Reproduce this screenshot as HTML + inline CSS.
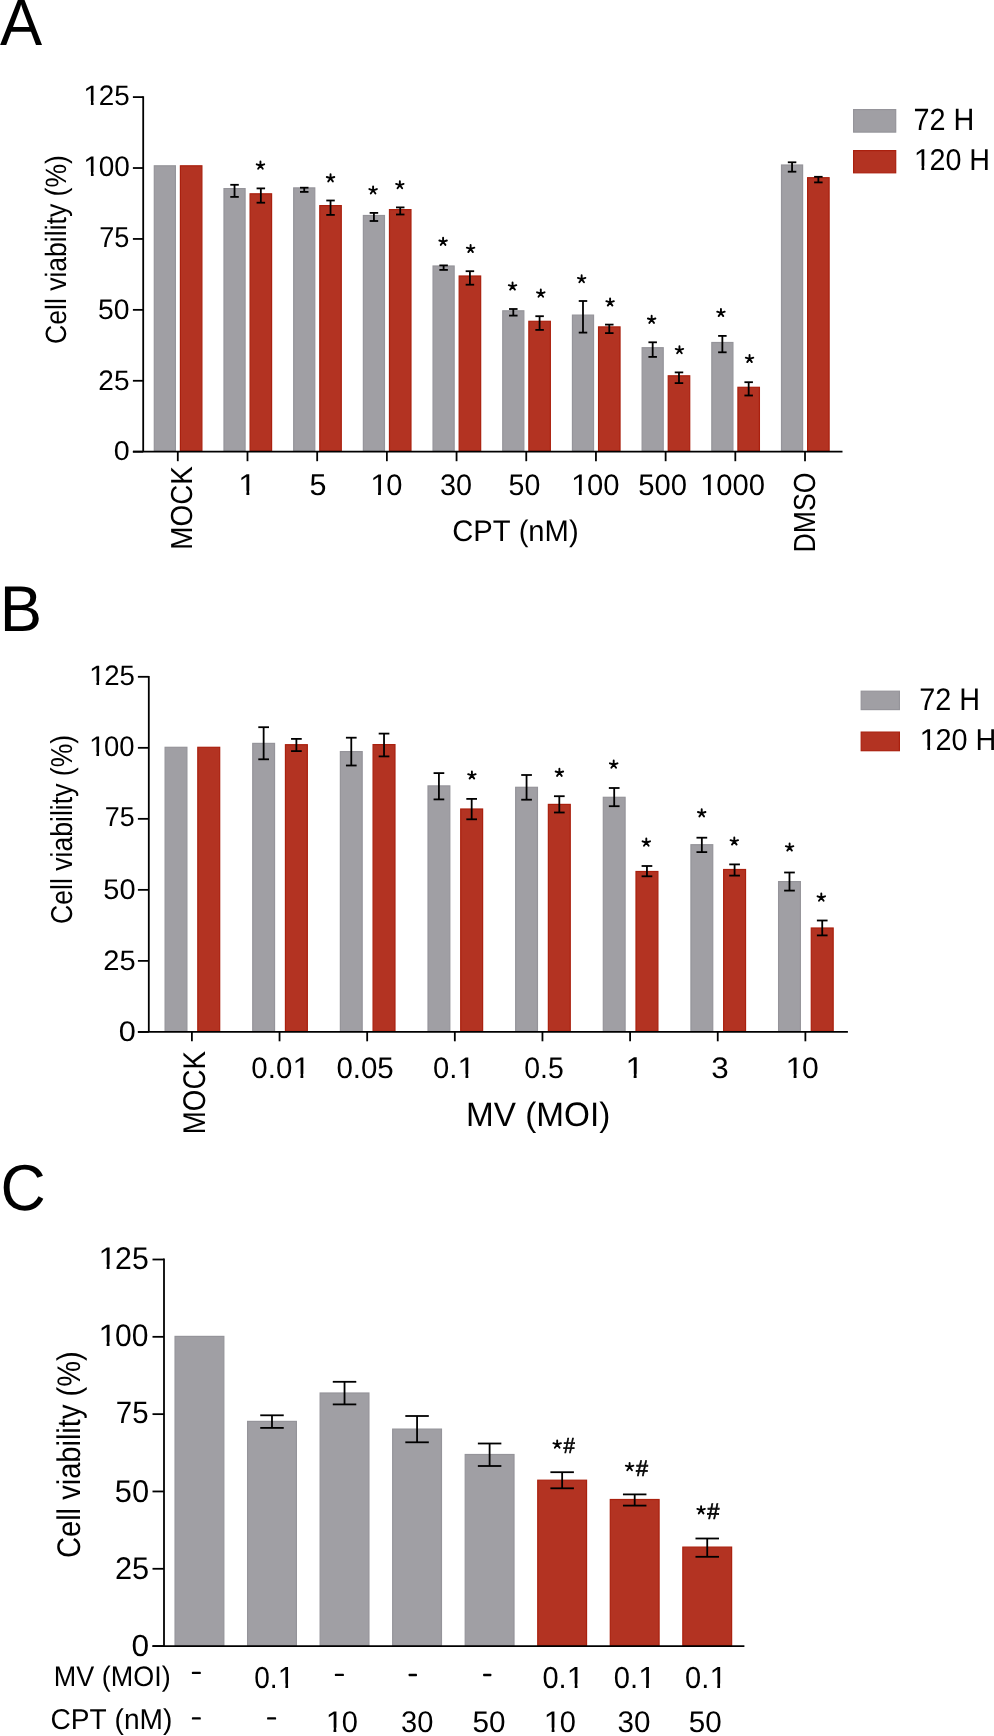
<!DOCTYPE html>
<html><head><meta charset="utf-8"><style>
html,body{margin:0;padding:0;background:#fff;}
svg{display:block;will-change:transform;}
text{font-family:"Liberation Sans",sans-serif;font-size:100px;fill:#000;font-kerning:none;text-rendering:geometricPrecision;}
.t{opacity:0.999;}
</style></head><body>
<svg width="994" height="1736" viewBox="0 0 994 1736">
<rect width="994" height="1736" fill="#fff"/>
<g class="t" transform="translate(0.07,44.5) scale(0.63192,0.65408)"><text>A</text></g>
<line x1="132.9" y1="97.1" x2="143.2" y2="97.1" stroke="#000" stroke-width="1.8"/>
<g class="t" transform="translate(83.2,104.53) scale(0.27875,0.28107)"><g transform="translate(0.48,0) scale(1.0822,1)"><text>1</text><rect x="1.95" y="-13" width="23.14" height="16.5" fill="#fff"/><rect x="34.03" y="-13" width="20.17" height="16.5" fill="#fff"/></g><text x="55.62">25</text></g>
<line x1="132.9" y1="168.02" x2="143.2" y2="168.02" stroke="#000" stroke-width="1.8"/>
<g class="t" transform="translate(83.21,175.52) scale(0.27888,0.28248)"><g transform="translate(0.48,0) scale(1.0822,1)"><text>1</text><rect x="1.95" y="-13" width="23.14" height="16.5" fill="#fff"/><rect x="34.03" y="-13" width="20.17" height="16.5" fill="#fff"/></g><text x="55.62">00</text></g>
<line x1="132.9" y1="238.94" x2="143.2" y2="238.94" stroke="#000" stroke-width="1.8"/>
<g class="t" transform="translate(99.21,246.72) scale(0.27138,0.28807)"><text>75</text></g>
<line x1="132.9" y1="309.86" x2="143.2" y2="309.86" stroke="#000" stroke-width="1.8"/>
<g class="t" transform="translate(98.02,318.52) scale(0.28353,0.28248)"><text>50</text></g>
<line x1="132.9" y1="380.78" x2="143.2" y2="380.78" stroke="#000" stroke-width="1.8"/>
<g class="t" transform="translate(98.29,389.53) scale(0.28058,0.28107)"><text>25</text></g>
<line x1="132.9" y1="451.7" x2="143.2" y2="451.7" stroke="#000" stroke-width="1.8"/>
<g class="t" transform="translate(113.64,459.74) scale(0.28631,0.27118)"><text>0</text></g>
<rect x="154.3" y="165.8" width="21.1" height="285.3" fill="#a09fa4" stroke="#95949a" stroke-width="1.2"/>
<rect x="180.4" y="165.8" width="21.5" height="285.3" fill="#b33322" stroke="#aa200e" stroke-width="1.2"/>
<line x1="177.8" y1="451.7" x2="177.8" y2="461.2" stroke="#000" stroke-width="1.8"/>
<rect x="223.99" y="188.6" width="21.1" height="262.5" fill="#a09fa4" stroke="#95949a" stroke-width="1.2"/>
<rect x="250.09" y="193.8" width="21.5" height="257.3" fill="#b33322" stroke="#aa200e" stroke-width="1.2"/>
<line x1="234.54" y1="184.8" x2="234.54" y2="196.9" stroke="#000" stroke-width="1.8"/>
<line x1="230.29" y1="184.8" x2="238.79" y2="184.8" stroke="#000" stroke-width="1.8"/>
<line x1="230.29" y1="196.9" x2="238.79" y2="196.9" stroke="#000" stroke-width="1.8"/>
<line x1="260.84" y1="188.4" x2="260.84" y2="202.7" stroke="#000" stroke-width="1.8"/>
<line x1="256.59" y1="188.4" x2="265.09" y2="188.4" stroke="#000" stroke-width="1.8"/>
<line x1="256.59" y1="202.7" x2="265.09" y2="202.7" stroke="#000" stroke-width="1.8"/>
<path d="M260.45 165.5L260.45 161.55M260.45 165.5L256.69 164.28M260.45 165.5L258.13 168.7M260.45 165.5L262.77 168.7M260.45 165.5L264.21 164.28" stroke="#000" stroke-width="1.9" stroke-linecap="round" fill="none"/>
<line x1="247.49" y1="451.7" x2="247.49" y2="461.2" stroke="#000" stroke-width="1.8"/>
<rect x="293.68" y="187.9" width="21.1" height="263.2" fill="#a09fa4" stroke="#95949a" stroke-width="1.2"/>
<rect x="319.78" y="205.6" width="21.5" height="245.5" fill="#b33322" stroke="#aa200e" stroke-width="1.2"/>
<line x1="304.23" y1="187.7" x2="304.23" y2="191.9" stroke="#000" stroke-width="1.8"/>
<line x1="299.98" y1="187.7" x2="308.48" y2="187.7" stroke="#000" stroke-width="1.8"/>
<line x1="299.98" y1="191.9" x2="308.48" y2="191.9" stroke="#000" stroke-width="1.8"/>
<line x1="330.53" y1="200.5" x2="330.53" y2="214.9" stroke="#000" stroke-width="1.8"/>
<line x1="326.28" y1="200.5" x2="334.78" y2="200.5" stroke="#000" stroke-width="1.8"/>
<line x1="326.28" y1="214.9" x2="334.78" y2="214.9" stroke="#000" stroke-width="1.8"/>
<path d="M330.55 178.2L330.55 174.25M330.55 178.2L326.79 176.98M330.55 178.2L328.23 181.4M330.55 178.2L332.87 181.4M330.55 178.2L334.31 176.98" stroke="#000" stroke-width="1.9" stroke-linecap="round" fill="none"/>
<line x1="317.18" y1="451.7" x2="317.18" y2="461.2" stroke="#000" stroke-width="1.8"/>
<rect x="363.37" y="215.5" width="21.1" height="235.6" fill="#a09fa4" stroke="#95949a" stroke-width="1.2"/>
<rect x="389.47" y="209.6" width="21.5" height="241.5" fill="#b33322" stroke="#aa200e" stroke-width="1.2"/>
<line x1="373.92" y1="212.9" x2="373.92" y2="221" stroke="#000" stroke-width="1.8"/>
<line x1="369.67" y1="212.9" x2="378.17" y2="212.9" stroke="#000" stroke-width="1.8"/>
<line x1="369.67" y1="221" x2="378.17" y2="221" stroke="#000" stroke-width="1.8"/>
<line x1="400.22" y1="207.4" x2="400.22" y2="214.5" stroke="#000" stroke-width="1.8"/>
<line x1="395.97" y1="207.4" x2="404.47" y2="207.4" stroke="#000" stroke-width="1.8"/>
<line x1="395.97" y1="214.5" x2="404.47" y2="214.5" stroke="#000" stroke-width="1.8"/>
<path d="M373.1 190.3L373.1 186.35M373.1 190.3L369.34 189.08M373.1 190.3L370.78 193.5M373.1 190.3L375.42 193.5M373.1 190.3L376.86 189.08" stroke="#000" stroke-width="1.9" stroke-linecap="round" fill="none"/>
<path d="M399.85 185.1L399.85 181.15M399.85 185.1L396.09 183.88M399.85 185.1L397.53 188.3M399.85 185.1L402.17 188.3M399.85 185.1L403.61 183.88" stroke="#000" stroke-width="1.9" stroke-linecap="round" fill="none"/>
<line x1="386.87" y1="451.7" x2="386.87" y2="461.2" stroke="#000" stroke-width="1.8"/>
<rect x="433.06" y="266" width="21.1" height="185.1" fill="#a09fa4" stroke="#95949a" stroke-width="1.2"/>
<rect x="459.16" y="276" width="21.5" height="175.1" fill="#b33322" stroke="#aa200e" stroke-width="1.2"/>
<line x1="443.61" y1="265.4" x2="443.61" y2="269.9" stroke="#000" stroke-width="1.8"/>
<line x1="439.36" y1="265.4" x2="447.86" y2="265.4" stroke="#000" stroke-width="1.8"/>
<line x1="439.36" y1="269.9" x2="447.86" y2="269.9" stroke="#000" stroke-width="1.8"/>
<line x1="469.91" y1="271.2" x2="469.91" y2="284.7" stroke="#000" stroke-width="1.8"/>
<line x1="465.66" y1="271.2" x2="474.16" y2="271.2" stroke="#000" stroke-width="1.8"/>
<line x1="465.66" y1="284.7" x2="474.16" y2="284.7" stroke="#000" stroke-width="1.8"/>
<path d="M443.1 241.7L443.1 237.75M443.1 241.7L439.34 240.48M443.1 241.7L440.78 244.9M443.1 241.7L445.42 244.9M443.1 241.7L446.86 240.48" stroke="#000" stroke-width="1.9" stroke-linecap="round" fill="none"/>
<path d="M470.6 248.9L470.6 244.95M470.6 248.9L466.84 247.68M470.6 248.9L468.28 252.1M470.6 248.9L472.92 252.1M470.6 248.9L474.36 247.68" stroke="#000" stroke-width="1.9" stroke-linecap="round" fill="none"/>
<line x1="456.56" y1="451.7" x2="456.56" y2="461.2" stroke="#000" stroke-width="1.8"/>
<rect x="502.75" y="310.8" width="21.1" height="140.3" fill="#a09fa4" stroke="#95949a" stroke-width="1.2"/>
<rect x="528.85" y="321.3" width="21.5" height="129.8" fill="#b33322" stroke="#aa200e" stroke-width="1.2"/>
<line x1="513.3" y1="309" x2="513.3" y2="315.6" stroke="#000" stroke-width="1.8"/>
<line x1="509.05" y1="309" x2="517.55" y2="309" stroke="#000" stroke-width="1.8"/>
<line x1="509.05" y1="315.6" x2="517.55" y2="315.6" stroke="#000" stroke-width="1.8"/>
<line x1="539.6" y1="316.2" x2="539.6" y2="329.9" stroke="#000" stroke-width="1.8"/>
<line x1="535.35" y1="316.2" x2="543.85" y2="316.2" stroke="#000" stroke-width="1.8"/>
<line x1="535.35" y1="329.9" x2="543.85" y2="329.9" stroke="#000" stroke-width="1.8"/>
<path d="M512.55 286.4L512.55 282.45M512.55 286.4L508.79 285.18M512.55 286.4L510.23 289.6M512.55 286.4L514.87 289.6M512.55 286.4L516.31 285.18" stroke="#000" stroke-width="1.9" stroke-linecap="round" fill="none"/>
<path d="M540.8 293.5L540.8 289.55M540.8 293.5L537.04 292.28M540.8 293.5L538.48 296.7M540.8 293.5L543.12 296.7M540.8 293.5L544.56 292.28" stroke="#000" stroke-width="1.9" stroke-linecap="round" fill="none"/>
<line x1="526.25" y1="451.7" x2="526.25" y2="461.2" stroke="#000" stroke-width="1.8"/>
<rect x="572.44" y="315.1" width="21.1" height="136" fill="#a09fa4" stroke="#95949a" stroke-width="1.2"/>
<rect x="598.54" y="326.9" width="21.5" height="124.2" fill="#b33322" stroke="#aa200e" stroke-width="1.2"/>
<line x1="582.99" y1="301" x2="582.99" y2="332.6" stroke="#000" stroke-width="1.8"/>
<line x1="578.74" y1="301" x2="587.24" y2="301" stroke="#000" stroke-width="1.8"/>
<line x1="578.74" y1="332.6" x2="587.24" y2="332.6" stroke="#000" stroke-width="1.8"/>
<line x1="609.29" y1="324.6" x2="609.29" y2="333.1" stroke="#000" stroke-width="1.8"/>
<line x1="605.04" y1="324.6" x2="613.54" y2="324.6" stroke="#000" stroke-width="1.8"/>
<line x1="605.04" y1="333.1" x2="613.54" y2="333.1" stroke="#000" stroke-width="1.8"/>
<path d="M581.65 279.1L581.65 275.15M581.65 279.1L577.89 277.88M581.65 279.1L579.33 282.3M581.65 279.1L583.97 282.3M581.65 279.1L585.41 277.88" stroke="#000" stroke-width="1.9" stroke-linecap="round" fill="none"/>
<path d="M610.1 302.4L610.1 298.45M610.1 302.4L606.34 301.18M610.1 302.4L607.78 305.6M610.1 302.4L612.42 305.6M610.1 302.4L613.86 301.18" stroke="#000" stroke-width="1.9" stroke-linecap="round" fill="none"/>
<line x1="595.94" y1="451.7" x2="595.94" y2="461.2" stroke="#000" stroke-width="1.8"/>
<rect x="642.13" y="347.7" width="21.1" height="103.4" fill="#a09fa4" stroke="#95949a" stroke-width="1.2"/>
<rect x="668.23" y="375.8" width="21.5" height="75.3" fill="#b33322" stroke="#aa200e" stroke-width="1.2"/>
<line x1="652.68" y1="342.3" x2="652.68" y2="356.9" stroke="#000" stroke-width="1.8"/>
<line x1="648.43" y1="342.3" x2="656.93" y2="342.3" stroke="#000" stroke-width="1.8"/>
<line x1="648.43" y1="356.9" x2="656.93" y2="356.9" stroke="#000" stroke-width="1.8"/>
<line x1="678.98" y1="372.4" x2="678.98" y2="383.1" stroke="#000" stroke-width="1.8"/>
<line x1="674.73" y1="372.4" x2="683.23" y2="372.4" stroke="#000" stroke-width="1.8"/>
<line x1="674.73" y1="383.1" x2="683.23" y2="383.1" stroke="#000" stroke-width="1.8"/>
<path d="M651.65 319.7L651.65 315.75M651.65 319.7L647.89 318.48M651.65 319.7L649.33 322.9M651.65 319.7L653.97 322.9M651.65 319.7L655.41 318.48" stroke="#000" stroke-width="1.9" stroke-linecap="round" fill="none"/>
<path d="M679.45 350.1L679.45 346.15M679.45 350.1L675.69 348.88M679.45 350.1L677.13 353.3M679.45 350.1L681.77 353.3M679.45 350.1L683.21 348.88" stroke="#000" stroke-width="1.9" stroke-linecap="round" fill="none"/>
<line x1="665.63" y1="451.7" x2="665.63" y2="461.2" stroke="#000" stroke-width="1.8"/>
<rect x="711.82" y="342.5" width="21.1" height="108.6" fill="#a09fa4" stroke="#95949a" stroke-width="1.2"/>
<rect x="737.92" y="387.3" width="21.5" height="63.8" fill="#b33322" stroke="#aa200e" stroke-width="1.2"/>
<line x1="722.37" y1="335.9" x2="722.37" y2="352.3" stroke="#000" stroke-width="1.8"/>
<line x1="718.12" y1="335.9" x2="726.62" y2="335.9" stroke="#000" stroke-width="1.8"/>
<line x1="718.12" y1="352.3" x2="726.62" y2="352.3" stroke="#000" stroke-width="1.8"/>
<line x1="748.67" y1="382.2" x2="748.67" y2="395.5" stroke="#000" stroke-width="1.8"/>
<line x1="744.42" y1="382.2" x2="752.92" y2="382.2" stroke="#000" stroke-width="1.8"/>
<line x1="744.42" y1="395.5" x2="752.92" y2="395.5" stroke="#000" stroke-width="1.8"/>
<path d="M720.95 312.9L720.95 308.95M720.95 312.9L717.19 311.68M720.95 312.9L718.63 316.1M720.95 312.9L723.27 316.1M720.95 312.9L724.71 311.68" stroke="#000" stroke-width="1.9" stroke-linecap="round" fill="none"/>
<path d="M749.55 358.9L749.55 354.95M749.55 358.9L745.79 357.68M749.55 358.9L747.23 362.1M749.55 358.9L751.87 362.1M749.55 358.9L753.31 357.68" stroke="#000" stroke-width="1.9" stroke-linecap="round" fill="none"/>
<line x1="735.32" y1="451.7" x2="735.32" y2="461.2" stroke="#000" stroke-width="1.8"/>
<rect x="781.51" y="165" width="21.1" height="286.1" fill="#a09fa4" stroke="#95949a" stroke-width="1.2"/>
<rect x="807.61" y="177.7" width="21.5" height="273.4" fill="#b33322" stroke="#aa200e" stroke-width="1.2"/>
<line x1="792.06" y1="162.3" x2="792.06" y2="171.7" stroke="#000" stroke-width="1.8"/>
<line x1="787.81" y1="162.3" x2="796.31" y2="162.3" stroke="#000" stroke-width="1.8"/>
<line x1="787.81" y1="171.7" x2="796.31" y2="171.7" stroke="#000" stroke-width="1.8"/>
<line x1="818.36" y1="176.8" x2="818.36" y2="182.4" stroke="#000" stroke-width="1.8"/>
<line x1="814.11" y1="176.8" x2="822.61" y2="176.8" stroke="#000" stroke-width="1.8"/>
<line x1="814.11" y1="182.4" x2="822.61" y2="182.4" stroke="#000" stroke-width="1.8"/>
<line x1="805.01" y1="451.7" x2="805.01" y2="461.2" stroke="#000" stroke-width="1.8"/>
<line x1="143.2" y1="96.2" x2="143.2" y2="451.7" stroke="#000" stroke-width="1.8"/>
<line x1="132.9" y1="451.7" x2="842.5" y2="451.7" stroke="#000" stroke-width="1.8"/>
<g class="t" transform="translate(238.12,494.6) scale(0.29984,0.30088)"><g transform="translate(0.48,0) scale(1.0822,1)"><text>1</text><rect x="1.95" y="-13" width="23.14" height="16.5" fill="#fff"/><rect x="34.03" y="-13" width="20.17" height="16.5" fill="#fff"/></g></g>
<g class="t" transform="translate(309.42,494.61) scale(0.30471,0.30097)"><text>5</text></g>
<g class="t" transform="translate(369.99,494.61) scale(0.29141,0.29661)"><g transform="translate(0.48,0) scale(1.0822,1)"><text>1</text><rect x="1.95" y="-13" width="23.14" height="16.5" fill="#fff"/><rect x="34.03" y="-13" width="20.17" height="16.5" fill="#fff"/></g><text x="55.62">0</text></g>
<g class="t" transform="translate(439.98,494.61) scale(0.28788,0.29661)"><text>30</text></g>
<g class="t" transform="translate(508.57,494.61) scale(0.28505,0.29661)"><text>50</text></g>
<g class="t" transform="translate(570.77,494.61) scale(0.29203,0.29661)"><g transform="translate(0.48,0) scale(1.0822,1)"><text>1</text><rect x="1.95" y="-13" width="23.14" height="16.5" fill="#fff"/><rect x="34.03" y="-13" width="20.17" height="16.5" fill="#fff"/></g><text x="55.62">00</text></g>
<g class="t" transform="translate(638.14,494.61) scale(0.29239,0.29661)"><text>500</text></g>
<g class="t" transform="translate(699.93,494.61) scale(0.29187,0.29661)"><g transform="translate(0.48,0) scale(1.0822,1)"><text>1</text><rect x="1.95" y="-13" width="23.14" height="16.5" fill="#fff"/><rect x="34.03" y="-13" width="20.17" height="16.5" fill="#fff"/></g><text x="55.62">000</text></g>
<g class="t" transform="translate(191.6,549.63) rotate(-90) scale(0.27793,0.30367)"><text>MOCK</text></g>
<g class="t" transform="translate(814.7,552.54) rotate(-90) scale(0.26660,0.30508)"><text>DMSO</text></g>
<g class="t" transform="translate(452.15,540.94) scale(0.29185,0.29732)"><text>CPT (nM)</text></g>
<g class="t" transform="translate(65.8,343.89) rotate(-90) scale(0.26531,0.29395)"><text>Cell viability (%)</text></g>
<rect x="853.6" y="109.6" width="42.1" height="22.5" fill="#a09fa4" stroke="#95949a" stroke-width="1.2"/>
<rect x="853.6" y="150.6" width="42.1" height="22.2" fill="#b33322" stroke="#aa200e" stroke-width="1.2"/>
<g class="t" transform="translate(913.55,129.7) scale(0.28815,0.30792)"><text>72 H</text></g>
<g class="t" transform="translate(913.58,169.81) scale(0.28666,0.30084)"><g transform="translate(0.48,0) scale(1.0822,1)"><text>1</text><rect x="1.95" y="-13" width="23.14" height="16.5" fill="#fff"/><rect x="34.03" y="-13" width="20.17" height="16.5" fill="#fff"/></g><text x="55.62">20 H</text></g>
<g class="t" transform="translate(-0.14,630.5) scale(0.63463,0.64827)"><text>B</text></g>
<line x1="137.9" y1="676.8" x2="148.8" y2="676.8" stroke="#000" stroke-width="1.8"/>
<g class="t" transform="translate(88.78,684.73) scale(0.27601,0.28107)"><g transform="translate(0.48,0) scale(1.0822,1)"><text>1</text><rect x="1.95" y="-13" width="23.14" height="16.5" fill="#fff"/><rect x="34.03" y="-13" width="20.17" height="16.5" fill="#fff"/></g><text x="55.62">25</text></g>
<line x1="137.9" y1="747.82" x2="148.8" y2="747.82" stroke="#000" stroke-width="1.8"/>
<g class="t" transform="translate(88.8,755.62) scale(0.27468,0.28390)"><g transform="translate(0.48,0) scale(1.0822,1)"><text>1</text><rect x="1.95" y="-13" width="23.14" height="16.5" fill="#fff"/><rect x="34.03" y="-13" width="20.17" height="16.5" fill="#fff"/></g><text x="55.62">00</text></g>
<line x1="137.9" y1="818.84" x2="148.8" y2="818.84" stroke="#000" stroke-width="1.8"/>
<g class="t" transform="translate(104.74,825.53) scale(0.26857,0.27374)"><text>75</text></g>
<line x1="137.9" y1="889.86" x2="148.8" y2="889.86" stroke="#000" stroke-width="1.8"/>
<g class="t" transform="translate(103.37,898.72) scale(0.28998,0.28531)"><text>50</text></g>
<line x1="137.9" y1="960.88" x2="148.8" y2="960.88" stroke="#000" stroke-width="1.8"/>
<g class="t" transform="translate(103.22,969.53) scale(0.29138,0.28107)"><text>25</text></g>
<line x1="137.9" y1="1031.9" x2="148.8" y2="1031.9" stroke="#000" stroke-width="1.8"/>
<g class="t" transform="translate(118.68,1040.63) scale(0.30673,0.28107)"><text>0</text></g>
<rect x="165.1" y="747.3" width="21.8" height="284" fill="#a09fa4" stroke="#95949a" stroke-width="1.2"/>
<rect x="197.8" y="747.3" width="21.9" height="284" fill="#b33322" stroke="#aa200e" stroke-width="1.2"/>
<line x1="191.9" y1="1031.9" x2="191.9" y2="1041.3" stroke="#000" stroke-width="1.8"/>
<rect x="252.74" y="743.4" width="21.8" height="287.9" fill="#a09fa4" stroke="#95949a" stroke-width="1.2"/>
<rect x="285.44" y="744.7" width="21.9" height="286.6" fill="#b33322" stroke="#aa200e" stroke-width="1.2"/>
<line x1="263.64" y1="727.2" x2="263.64" y2="759.3" stroke="#000" stroke-width="1.8"/>
<line x1="258.29" y1="727.2" x2="268.99" y2="727.2" stroke="#000" stroke-width="1.8"/>
<line x1="258.29" y1="759.3" x2="268.99" y2="759.3" stroke="#000" stroke-width="1.8"/>
<line x1="296.39" y1="738.9" x2="296.39" y2="751.1" stroke="#000" stroke-width="1.8"/>
<line x1="291.04" y1="738.9" x2="301.74" y2="738.9" stroke="#000" stroke-width="1.8"/>
<line x1="291.04" y1="751.1" x2="301.74" y2="751.1" stroke="#000" stroke-width="1.8"/>
<line x1="279.54" y1="1031.9" x2="279.54" y2="1041.3" stroke="#000" stroke-width="1.8"/>
<rect x="340.38" y="751.6" width="21.8" height="279.7" fill="#a09fa4" stroke="#95949a" stroke-width="1.2"/>
<rect x="373.08" y="744.6" width="21.9" height="286.7" fill="#b33322" stroke="#aa200e" stroke-width="1.2"/>
<line x1="351.28" y1="737.7" x2="351.28" y2="765.5" stroke="#000" stroke-width="1.8"/>
<line x1="345.93" y1="737.7" x2="356.63" y2="737.7" stroke="#000" stroke-width="1.8"/>
<line x1="345.93" y1="765.5" x2="356.63" y2="765.5" stroke="#000" stroke-width="1.8"/>
<line x1="384.03" y1="733.6" x2="384.03" y2="756.4" stroke="#000" stroke-width="1.8"/>
<line x1="378.68" y1="733.6" x2="389.38" y2="733.6" stroke="#000" stroke-width="1.8"/>
<line x1="378.68" y1="756.4" x2="389.38" y2="756.4" stroke="#000" stroke-width="1.8"/>
<line x1="367.18" y1="1031.9" x2="367.18" y2="1041.3" stroke="#000" stroke-width="1.8"/>
<rect x="428.02" y="785.9" width="21.8" height="245.4" fill="#a09fa4" stroke="#95949a" stroke-width="1.2"/>
<rect x="460.72" y="809" width="21.9" height="222.3" fill="#b33322" stroke="#aa200e" stroke-width="1.2"/>
<line x1="438.92" y1="773.1" x2="438.92" y2="799.4" stroke="#000" stroke-width="1.8"/>
<line x1="433.57" y1="773.1" x2="444.27" y2="773.1" stroke="#000" stroke-width="1.8"/>
<line x1="433.57" y1="799.4" x2="444.27" y2="799.4" stroke="#000" stroke-width="1.8"/>
<line x1="471.67" y1="798.9" x2="471.67" y2="819.3" stroke="#000" stroke-width="1.8"/>
<line x1="466.32" y1="798.9" x2="477.02" y2="798.9" stroke="#000" stroke-width="1.8"/>
<line x1="466.32" y1="819.3" x2="477.02" y2="819.3" stroke="#000" stroke-width="1.8"/>
<path d="M471.9 775.4L471.9 771.45M471.9 775.4L468.14 774.18M471.9 775.4L469.58 778.6M471.9 775.4L474.22 778.6M471.9 775.4L475.66 774.18" stroke="#000" stroke-width="1.9" stroke-linecap="round" fill="none"/>
<line x1="454.82" y1="1031.9" x2="454.82" y2="1041.3" stroke="#000" stroke-width="1.8"/>
<rect x="515.66" y="787.3" width="21.8" height="244" fill="#a09fa4" stroke="#95949a" stroke-width="1.2"/>
<rect x="548.36" y="804.4" width="21.9" height="226.9" fill="#b33322" stroke="#aa200e" stroke-width="1.2"/>
<line x1="526.56" y1="775" x2="526.56" y2="799.7" stroke="#000" stroke-width="1.8"/>
<line x1="521.21" y1="775" x2="531.91" y2="775" stroke="#000" stroke-width="1.8"/>
<line x1="521.21" y1="799.7" x2="531.91" y2="799.7" stroke="#000" stroke-width="1.8"/>
<line x1="559.31" y1="796.2" x2="559.31" y2="812.5" stroke="#000" stroke-width="1.8"/>
<line x1="553.96" y1="796.2" x2="564.66" y2="796.2" stroke="#000" stroke-width="1.8"/>
<line x1="553.96" y1="812.5" x2="564.66" y2="812.5" stroke="#000" stroke-width="1.8"/>
<path d="M559.4 772.7L559.4 768.75M559.4 772.7L555.64 771.48M559.4 772.7L557.08 775.9M559.4 772.7L561.72 775.9M559.4 772.7L563.16 771.48" stroke="#000" stroke-width="1.9" stroke-linecap="round" fill="none"/>
<line x1="542.46" y1="1031.9" x2="542.46" y2="1041.3" stroke="#000" stroke-width="1.8"/>
<rect x="603.3" y="797.3" width="21.8" height="234" fill="#a09fa4" stroke="#95949a" stroke-width="1.2"/>
<rect x="636" y="871.5" width="21.9" height="159.8" fill="#b33322" stroke="#aa200e" stroke-width="1.2"/>
<line x1="614.2" y1="788" x2="614.2" y2="806.2" stroke="#000" stroke-width="1.8"/>
<line x1="608.85" y1="788" x2="619.55" y2="788" stroke="#000" stroke-width="1.8"/>
<line x1="608.85" y1="806.2" x2="619.55" y2="806.2" stroke="#000" stroke-width="1.8"/>
<line x1="646.95" y1="866" x2="646.95" y2="876.3" stroke="#000" stroke-width="1.8"/>
<line x1="641.6" y1="866" x2="652.3" y2="866" stroke="#000" stroke-width="1.8"/>
<line x1="641.6" y1="876.3" x2="652.3" y2="876.3" stroke="#000" stroke-width="1.8"/>
<path d="M613.7 764.5L613.7 760.55M613.7 764.5L609.94 763.28M613.7 764.5L611.38 767.7M613.7 764.5L616.02 767.7M613.7 764.5L617.46 763.28" stroke="#000" stroke-width="1.9" stroke-linecap="round" fill="none"/>
<path d="M646.3 842.5L646.3 838.55M646.3 842.5L642.54 841.28M646.3 842.5L643.98 845.7M646.3 842.5L648.62 845.7M646.3 842.5L650.06 841.28" stroke="#000" stroke-width="1.9" stroke-linecap="round" fill="none"/>
<line x1="630.1" y1="1031.9" x2="630.1" y2="1041.3" stroke="#000" stroke-width="1.8"/>
<rect x="690.94" y="844.7" width="21.8" height="186.6" fill="#a09fa4" stroke="#95949a" stroke-width="1.2"/>
<rect x="723.64" y="869.5" width="21.9" height="161.8" fill="#b33322" stroke="#aa200e" stroke-width="1.2"/>
<line x1="701.84" y1="837.7" x2="701.84" y2="852.1" stroke="#000" stroke-width="1.8"/>
<line x1="696.49" y1="837.7" x2="707.19" y2="837.7" stroke="#000" stroke-width="1.8"/>
<line x1="696.49" y1="852.1" x2="707.19" y2="852.1" stroke="#000" stroke-width="1.8"/>
<line x1="734.59" y1="864.4" x2="734.59" y2="875.6" stroke="#000" stroke-width="1.8"/>
<line x1="729.24" y1="864.4" x2="739.94" y2="864.4" stroke="#000" stroke-width="1.8"/>
<line x1="729.24" y1="875.6" x2="739.94" y2="875.6" stroke="#000" stroke-width="1.8"/>
<path d="M701.7 813.2L701.7 809.25M701.7 813.2L697.94 811.98M701.7 813.2L699.38 816.4M701.7 813.2L704.02 816.4M701.7 813.2L705.46 811.98" stroke="#000" stroke-width="1.9" stroke-linecap="round" fill="none"/>
<path d="M734.3 841.4L734.3 837.45M734.3 841.4L730.54 840.18M734.3 841.4L731.98 844.6M734.3 841.4L736.62 844.6M734.3 841.4L738.06 840.18" stroke="#000" stroke-width="1.9" stroke-linecap="round" fill="none"/>
<line x1="717.74" y1="1031.9" x2="717.74" y2="1041.3" stroke="#000" stroke-width="1.8"/>
<rect x="778.58" y="881.6" width="21.8" height="149.7" fill="#a09fa4" stroke="#95949a" stroke-width="1.2"/>
<rect x="811.28" y="928" width="21.9" height="103.3" fill="#b33322" stroke="#aa200e" stroke-width="1.2"/>
<line x1="789.48" y1="872.5" x2="789.48" y2="890.6" stroke="#000" stroke-width="1.8"/>
<line x1="784.13" y1="872.5" x2="794.83" y2="872.5" stroke="#000" stroke-width="1.8"/>
<line x1="784.13" y1="890.6" x2="794.83" y2="890.6" stroke="#000" stroke-width="1.8"/>
<line x1="822.23" y1="920.5" x2="822.23" y2="935.4" stroke="#000" stroke-width="1.8"/>
<line x1="816.88" y1="920.5" x2="827.58" y2="920.5" stroke="#000" stroke-width="1.8"/>
<line x1="816.88" y1="935.4" x2="827.58" y2="935.4" stroke="#000" stroke-width="1.8"/>
<path d="M789.6 847.4L789.6 843.45M789.6 847.4L785.84 846.18M789.6 847.4L787.28 850.6M789.6 847.4L791.92 850.6M789.6 847.4L793.36 846.18" stroke="#000" stroke-width="1.9" stroke-linecap="round" fill="none"/>
<path d="M821.3 897.5L821.3 893.55M821.3 897.5L817.54 896.28M821.3 897.5L818.98 900.7M821.3 897.5L823.62 900.7M821.3 897.5L825.06 896.28" stroke="#000" stroke-width="1.9" stroke-linecap="round" fill="none"/>
<line x1="805.38" y1="1031.9" x2="805.38" y2="1041.3" stroke="#000" stroke-width="1.8"/>
<line x1="148.8" y1="675.9" x2="148.8" y2="1031.9" stroke="#000" stroke-width="1.8"/>
<line x1="137.9" y1="1031.9" x2="847.9" y2="1031.9" stroke="#000" stroke-width="1.8"/>
<g class="t" transform="translate(251.35,1077.71) scale(0.29464,0.29661)"><text x="0">0.0</text><g transform="translate(139.49,0) scale(1.0822,1)"><text>1</text><rect x="1.95" y="-13" width="23.14" height="16.5" fill="#fff"/><rect x="34.03" y="-13" width="20.17" height="16.5" fill="#fff"/></g></g>
<g class="t" transform="translate(336.39,1077.71) scale(0.29466,0.29661)"><text>0.05</text></g>
<g class="t" transform="translate(433.01,1077.71) scale(0.29240,0.29661)"><text x="0">0.</text><g transform="translate(83.88,0) scale(1.0822,1)"><text>1</text><rect x="1.95" y="-13" width="23.14" height="16.5" fill="#fff"/><rect x="34.03" y="-13" width="20.17" height="16.5" fill="#fff"/></g></g>
<g class="t" transform="translate(524.24,1077.71) scale(0.28423,0.29661)"><text>0.5</text></g>
<g class="t" transform="translate(625.23,1077.7) scale(0.30489,0.30088)"><g transform="translate(0.48,0) scale(1.0822,1)"><text>1</text><rect x="1.95" y="-13" width="23.14" height="16.5" fill="#fff"/><rect x="34.03" y="-13" width="20.17" height="16.5" fill="#fff"/></g></g>
<g class="t" transform="translate(711.3,1077.71) scale(0.31431,0.29661)"><text>3</text></g>
<g class="t" transform="translate(785.3,1077.71) scale(0.30060,0.29661)"><g transform="translate(0.48,0) scale(1.0822,1)"><text>1</text><rect x="1.95" y="-13" width="23.14" height="16.5" fill="#fff"/><rect x="34.03" y="-13" width="20.17" height="16.5" fill="#fff"/></g><text x="55.62">0</text></g>
<g class="t" transform="translate(204.79,1134.28) rotate(-90) scale(0.27742,0.31356)"><text>MOCK</text></g>
<g class="t" transform="translate(466.1,1125.98) scale(0.33289,0.33919)"><text>MV (MOI)</text></g>
<g class="t" transform="translate(71.72,923.9) rotate(-90) scale(0.26583,0.30253)"><text>Cell viability (%)</text></g>
<rect x="861.2" y="691.2" width="38.2" height="18.4" fill="#a09fa4" stroke="#95949a" stroke-width="1.2"/>
<rect x="861.2" y="732.1" width="38.2" height="18.6" fill="#b33322" stroke="#aa200e" stroke-width="1.2"/>
<g class="t" transform="translate(919.19,709.7) scale(0.28819,0.31221)"><text>72 H</text></g>
<g class="t" transform="translate(919.37,749.6) scale(0.28797,0.30226)"><g transform="translate(0.48,0) scale(1.0822,1)"><text>1</text><rect x="1.95" y="-13" width="23.14" height="16.5" fill="#fff"/><rect x="34.03" y="-13" width="20.17" height="16.5" fill="#fff"/></g><text x="55.62">20 H</text></g>
<g class="t" transform="translate(0.49,1209.87) scale(0.62622,0.64971)"><text>C</text></g>
<line x1="152.5" y1="1259.5" x2="164" y2="1259.5" stroke="#000" stroke-width="1.8"/>
<g class="t" transform="translate(98.26,1268.69) scale(0.30252,0.31356)"><g transform="translate(0.48,0) scale(1.0822,1)"><text>1</text><rect x="1.95" y="-13" width="23.14" height="16.5" fill="#fff"/><rect x="34.03" y="-13" width="20.17" height="16.5" fill="#fff"/></g><text x="55.62">25</text></g>
<line x1="152.5" y1="1336.82" x2="164" y2="1336.82" stroke="#000" stroke-width="1.8"/>
<g class="t" transform="translate(98.29,1345.7) scale(0.30098,0.31073)"><g transform="translate(0.48,0) scale(1.0822,1)"><text>1</text><rect x="1.95" y="-13" width="23.14" height="16.5" fill="#fff"/><rect x="34.03" y="-13" width="20.17" height="16.5" fill="#fff"/></g><text x="55.62">00</text></g>
<line x1="152.5" y1="1414.14" x2="164" y2="1414.14" stroke="#000" stroke-width="1.8"/>
<g class="t" transform="translate(115.78,1422.5) scale(0.29489,0.30956)"><text>75</text></g>
<line x1="152.5" y1="1491.46" x2="164" y2="1491.46" stroke="#000" stroke-width="1.8"/>
<g class="t" transform="translate(114.87,1501.69) scale(0.30835,0.31356)"><text>50</text></g>
<line x1="152.5" y1="1568.78" x2="164" y2="1568.78" stroke="#000" stroke-width="1.8"/>
<g class="t" transform="translate(114.93,1578.59) scale(0.30788,0.31356)"><text>25</text></g>
<line x1="152.5" y1="1646.1" x2="164" y2="1646.1" stroke="#000" stroke-width="1.8"/>
<g class="t" transform="translate(131.62,1655.5) scale(0.31609,0.30508)"><text>0</text></g>
<rect x="175.05" y="1336.4" width="48.8" height="309.1" fill="#a09fa4" stroke="#95949a" stroke-width="1.2"/>
<rect x="247.59" y="1421.4" width="48.8" height="224.1" fill="#a09fa4" stroke="#95949a" stroke-width="1.2"/>
<line x1="271.99" y1="1415.3" x2="271.99" y2="1427.9" stroke="#000" stroke-width="1.8"/>
<line x1="260.24" y1="1415.3" x2="283.74" y2="1415.3" stroke="#000" stroke-width="1.8"/>
<line x1="260.24" y1="1427.9" x2="283.74" y2="1427.9" stroke="#000" stroke-width="1.8"/>
<rect x="320.13" y="1393" width="48.8" height="252.5" fill="#a09fa4" stroke="#95949a" stroke-width="1.2"/>
<line x1="344.53" y1="1381.8" x2="344.53" y2="1404.4" stroke="#000" stroke-width="1.8"/>
<line x1="332.78" y1="1381.8" x2="356.28" y2="1381.8" stroke="#000" stroke-width="1.8"/>
<line x1="332.78" y1="1404.4" x2="356.28" y2="1404.4" stroke="#000" stroke-width="1.8"/>
<rect x="392.67" y="1429.1" width="48.8" height="216.4" fill="#a09fa4" stroke="#95949a" stroke-width="1.2"/>
<line x1="417.07" y1="1416" x2="417.07" y2="1442.3" stroke="#000" stroke-width="1.8"/>
<line x1="405.32" y1="1416" x2="428.82" y2="1416" stroke="#000" stroke-width="1.8"/>
<line x1="405.32" y1="1442.3" x2="428.82" y2="1442.3" stroke="#000" stroke-width="1.8"/>
<rect x="465.21" y="1454.5" width="48.8" height="191" fill="#a09fa4" stroke="#95949a" stroke-width="1.2"/>
<line x1="489.61" y1="1443.5" x2="489.61" y2="1466" stroke="#000" stroke-width="1.8"/>
<line x1="477.86" y1="1443.5" x2="501.36" y2="1443.5" stroke="#000" stroke-width="1.8"/>
<line x1="477.86" y1="1466" x2="501.36" y2="1466" stroke="#000" stroke-width="1.8"/>
<rect x="537.75" y="1480.2" width="48.8" height="165.3" fill="#b33322" stroke="#aa200e" stroke-width="1.2"/>
<line x1="562.15" y1="1472.2" x2="562.15" y2="1488.3" stroke="#000" stroke-width="1.8"/>
<line x1="550.4" y1="1472.2" x2="573.9" y2="1472.2" stroke="#000" stroke-width="1.8"/>
<line x1="550.4" y1="1488.3" x2="573.9" y2="1488.3" stroke="#000" stroke-width="1.8"/>
<rect x="610.29" y="1499.5" width="48.8" height="146" fill="#b33322" stroke="#aa200e" stroke-width="1.2"/>
<line x1="634.69" y1="1494.4" x2="634.69" y2="1505.6" stroke="#000" stroke-width="1.8"/>
<line x1="622.94" y1="1494.4" x2="646.44" y2="1494.4" stroke="#000" stroke-width="1.8"/>
<line x1="622.94" y1="1505.6" x2="646.44" y2="1505.6" stroke="#000" stroke-width="1.8"/>
<rect x="682.83" y="1547.1" width="48.8" height="98.4" fill="#b33322" stroke="#aa200e" stroke-width="1.2"/>
<line x1="707.23" y1="1538.5" x2="707.23" y2="1556.8" stroke="#000" stroke-width="1.8"/>
<line x1="695.48" y1="1538.5" x2="718.98" y2="1538.5" stroke="#000" stroke-width="1.8"/>
<line x1="695.48" y1="1556.8" x2="718.98" y2="1556.8" stroke="#000" stroke-width="1.8"/>
<line x1="164" y1="1258.6" x2="164" y2="1646.1" stroke="#000" stroke-width="1.8"/>
<line x1="152.5" y1="1646.1" x2="744.4" y2="1646.1" stroke="#000" stroke-width="1.8"/>
<path d="M557.2 1444.45L557.2 1440.45M557.2 1444.45L553.4 1443.21M557.2 1444.45L554.85 1447.69M557.2 1444.45L559.55 1447.69M557.2 1444.45L561 1443.21" stroke="#000" stroke-width="1.9" stroke-linecap="round" fill="none"/>
<g class="t" transform="translate(563.53,1452.6) scale(0.20265,0.21781)"><text stroke="#000" stroke-width="3">#</text></g>
<path d="M629.6 1466.95L629.6 1462.95M629.6 1466.95L625.8 1465.71M629.6 1466.95L627.25 1470.19M629.6 1466.95L631.95 1470.19M629.6 1466.95L633.4 1465.71" stroke="#000" stroke-width="1.9" stroke-linecap="round" fill="none"/>
<g class="t" transform="translate(635.92,1475.8) scale(0.21534,0.22366)"><text stroke="#000" stroke-width="3">#</text></g>
<path d="M701.1 1510.15L701.1 1506.15M701.1 1510.15L697.3 1508.91M701.1 1510.15L698.75 1513.39M701.1 1510.15L703.45 1513.39M701.1 1510.15L704.9 1508.91" stroke="#000" stroke-width="1.9" stroke-linecap="round" fill="none"/>
<g class="t" transform="translate(707.34,1518.7) scale(0.21792,0.22366)"><text stroke="#000" stroke-width="3">#</text></g>
<g class="t" transform="translate(79.71,1558.01) rotate(-90) scale(0.29066,0.32721)"><text>Cell viability (%)</text></g>
<g class="t" transform="translate(53.76,1685.83) scale(0.26995,0.28337)"><text>MV (MOI)</text></g>
<g class="t" transform="translate(50.45,1728.57) scale(0.28137,0.28659)"><text>CPT (nM)</text></g>
<rect x="191.9" y="1671.7" width="8.9" height="2.4" rx="0.7" fill="#000"/>
<rect x="334.9" y="1673.7" width="9" height="2.4" rx="0.7" fill="#000"/>
<rect x="408.6" y="1673.8" width="8.4" height="2.4" rx="0.7" fill="#000"/>
<rect x="483.1" y="1673.8" width="8.3" height="2.4" rx="0.7" fill="#000"/>
<rect x="191.9" y="1717.2" width="8.9" height="2.4" rx="0.7" fill="#000"/>
<rect x="267.1" y="1717.2" width="9" height="2.4" rx="0.7" fill="#000"/>
<g class="t" transform="translate(254.29,1687.5) scale(0.28011,0.30508)"><text x="0">0.</text><g transform="translate(83.88,0) scale(1.0822,1)"><text>1</text><rect x="1.95" y="-13" width="23.14" height="16.5" fill="#fff"/><rect x="34.03" y="-13" width="20.17" height="16.5" fill="#fff"/></g></g>
<g class="t" transform="translate(542.45,1687.5) scale(0.29042,0.30508)"><text x="0">0.</text><g transform="translate(83.88,0) scale(1.0822,1)"><text>1</text><rect x="1.95" y="-13" width="23.14" height="16.5" fill="#fff"/><rect x="34.03" y="-13" width="20.17" height="16.5" fill="#fff"/></g></g>
<g class="t" transform="translate(613.76,1687.5) scale(0.29069,0.30508)"><text x="0">0.</text><g transform="translate(83.88,0) scale(1.0822,1)"><text>1</text><rect x="1.95" y="-13" width="23.14" height="16.5" fill="#fff"/><rect x="34.03" y="-13" width="20.17" height="16.5" fill="#fff"/></g></g>
<g class="t" transform="translate(685.06,1687.5) scale(0.28998,0.30508)"><text x="0">0.</text><g transform="translate(83.88,0) scale(1.0822,1)"><text>1</text><rect x="1.95" y="-13" width="23.14" height="16.5" fill="#fff"/><rect x="34.03" y="-13" width="20.17" height="16.5" fill="#fff"/></g></g>
<g class="t" transform="translate(325.49,1731.51) scale(0.29035,0.29802)"><g transform="translate(0.48,0) scale(1.0822,1)"><text>1</text><rect x="1.95" y="-13" width="23.14" height="16.5" fill="#fff"/><rect x="34.03" y="-13" width="20.17" height="16.5" fill="#fff"/></g><text x="55.62">0</text></g>
<g class="t" transform="translate(401.07,1731.51) scale(0.29053,0.29802)"><text>30</text></g>
<g class="t" transform="translate(472.47,1731.51) scale(0.29662,0.29802)"><text>50</text></g>
<g class="t" transform="translate(543.64,1731.51) scale(0.29051,0.29802)"><g transform="translate(0.48,0) scale(1.0822,1)"><text>1</text><rect x="1.95" y="-13" width="23.14" height="16.5" fill="#fff"/><rect x="34.03" y="-13" width="20.17" height="16.5" fill="#fff"/></g><text x="55.62">0</text></g>
<g class="t" transform="translate(617.4,1731.51) scale(0.29629,0.29802)"><text>30</text></g>
<g class="t" transform="translate(688.67,1731.51) scale(0.29617,0.29802)"><text>50</text></g>
</svg>
</body></html>
